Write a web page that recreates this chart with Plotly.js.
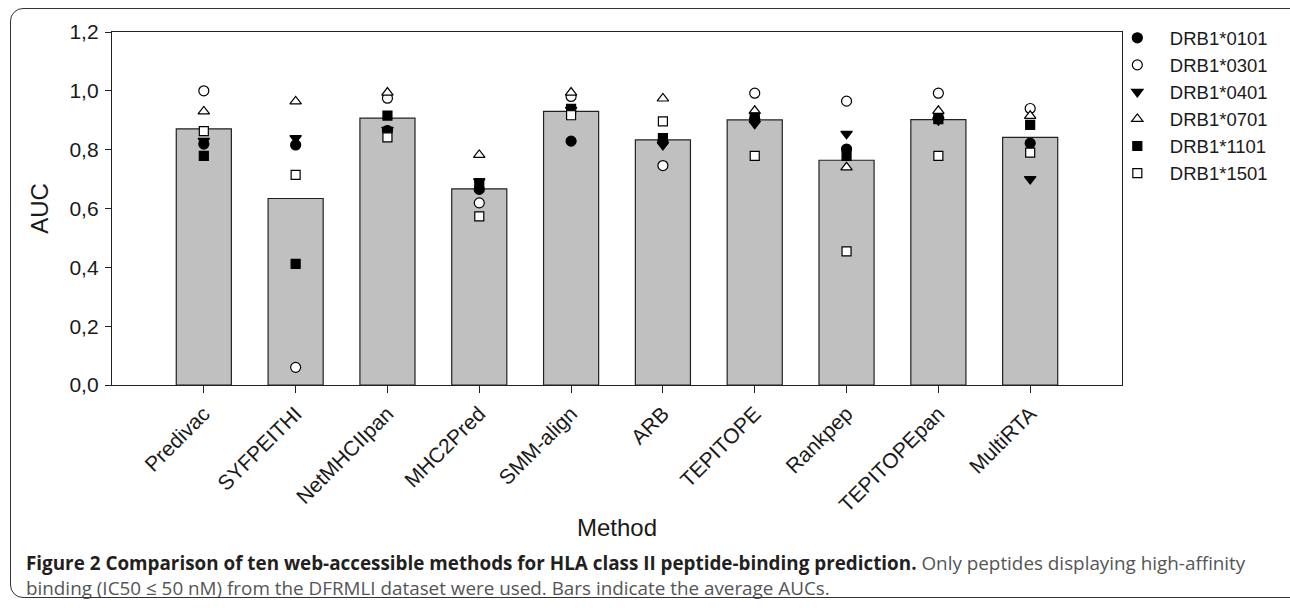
<!DOCTYPE html>
<html>
<head>
<meta charset="utf-8">
<script src="https://cdn.plot.ly/plotly-3.0.1.min.js"></script>
<style>
  html, body { margin: 0; padding: 0; background: #fff; }
  #wrap { position: relative; width: 1290px; height: 608px; overflow: hidden; }
  #frame { position: absolute; left: 10px; top: 8px; width: 1300px; height: 590px;
           border: 1.5px solid #333; border-radius: 13px; box-sizing: border-box; pointer-events: none; }
  #chart { position: absolute; left: 0; top: 0; width: 1290px; height: 608px; }
</style>
</head>
<body>
<div id="wrap">
  <div id="chart"></div>
  <div id="frame"></div>
</div>
<script>
// ---- Data ----
const methods = ["Predivac", "SYFPEITHI", "NetMHCIIpan", "MHC2Pred", "SMM-align",
                 "ARB", "TEPITOPE", "Rankpep", "TEPITOPEpan", "MultiRTA"];
const avgAUC   = [0.871, 0.634, 0.907, 0.667, 0.930, 0.833, 0.901, 0.764, 0.902, 0.842];

const alleles = ["DRB1*0101", "DRB1*0301", "DRB1*0401", "DRB1*0701", "DRB1*1101", "DRB1*1501"];
const DRB1_0101 = [0.819, 0.816, 0.865, 0.665, 0.829, 0.828, 0.904, 0.802, 0.907, 0.822];
const DRB1_0301 = [1.000, 0.060, 0.975, 0.619, 0.981, 0.746, 0.992, 0.965, 0.992, 0.940];
const DRB1_0401 = [0.830, 0.839, 0.867, 0.692, 0.935, 0.816, 0.888, 0.854, 0.900, 0.700];
const DRB1_0701 = [0.930, 0.964, 0.994, 0.782, 0.994, 0.974, 0.932, 0.740, 0.932, 0.915];
const DRB1_1101 = [0.779, 0.412, 0.916, 0.686, 0.939, 0.839, 0.910, 0.779, 0.904, 0.884];
const DRB1_1501 = [0.863, 0.714, 0.842, 0.573, 0.917, 0.896, 0.779, 0.454, 0.779, 0.790];
const alleleValues = [DRB1_0101, DRB1_0301, DRB1_0401, DRB1_0701, DRB1_1101, DRB1_1501];

const yTickVals = [0, 0.2, 0.4, 0.6, 0.8, 1.0, 1.2];

const captionBold = "Figure 2 Comparison of ten web-accessible methods for HLA class II peptide-binding prediction.";
const captionRest1 = " Only peptides displaying high-affinity";
const captionLine2 = "binding (IC50 \u2264 50 nM) from the DFRMLI dataset were used. Bars indicate the average AUCs.";

// ---- Styles ----
const symbols = ["circle", "circle", "triangle-down", "triangle-up", "square", "square"];
const fills   = ["#000", "#fff", "#000", "#fff", "#000", "#fff"];
const sizes   = [10, 10, 10, 10, 9, 9];

// geometry of the plot area in page pixels
const W = 1290, H = 608;
const M = { l: 112, r: 168, t: 32, b: 223 };
const pw = W - M.l - M.r, ph = H - M.t - M.b;
const px2paperX = x => (x - M.l) / pw;
const px2paperY = y => (H - M.b - y) / ph;

const traces = [];
traces.push({
  type: "bar",
  x: methods,
  y: avgAUC,
  width: 0.6,
  marker: { color: "#c0c0c0", line: { color: "#222", width: 1.2 } },
  showlegend: false,
  hoverinfo: "x+y"
});
alleles.forEach((name, i) => {
  traces.push({
    type: "scatter",
    mode: "markers",
    name: name,
    x: methods,
    y: alleleValues[i],
    marker: {
      symbol: symbols[i],
      size: sizes[i],
      color: fills[i],
      line: { color: "#000", width: 1.2 }
    }
  });
});

const font = "Liberation Sans, Arial, Helvetica, sans-serif";
const layout = {
  width: W, height: H,
  margin: M,
  paper_bgcolor: "#fff",
  plot_bgcolor: "#fff",
  separators: ",.",
  font: { family: font, color: "#1a1a1a", size: 18 },
  xaxis: {
    type: "category",
    range: [-1, 10],
    showline: true, mirror: true, linecolor: "#222", linewidth: 1.3,
    ticks: "outside", ticklen: 7, tickwidth: 1.2, tickcolor: "#222",
    tickangle: -45,
    tickfont: { family: font, size: 21, color: "#1a1a1a" },
    showgrid: false, zeroline: false,
    title: { text: "Method", font: { family: font, size: 24, color: "#1a1a1a" }, standoff: 4 }
  },
  yaxis: {
    range: [0, 1.2],
    tickvals: yTickVals,
    tickformat: ".1f",
    showline: true, mirror: true, linecolor: "#222", linewidth: 1.3,
    ticks: "outside", ticklen: 6, tickwidth: 1.2, tickcolor: "#222",
    ticklabelstandoff: 2,
    tickfont: { family: font, size: 21, color: "#1a1a1a" },
    showgrid: false, zeroline: false,
    title: { text: "AUC", font: { family: font, size: 24, color: "#1a1a1a" }, standoff: 14 }
  },
  legend: {
    x: 0.983, xanchor: "left", y: 1.036, yanchor: "top",
    itemwidth: 55,
    bgcolor: "rgba(0,0,0,0)",
    font: { family: font, size: 18.5, color: "#1a1a1a" },
    itemclick: false
  },
  annotations: [
    {
      xref: "paper", yref: "paper",
      x: px2paperX(24), y: px2paperY(575),
      xanchor: "left", yanchor: "middle", showarrow: false, align: "left",
      font: { family: "Open Sans, sans-serif", size: 18.85, color: "#555" },
      text: "<b><span style='color:#231f20'>" + captionBold + "</span></b>" + captionRest1 +
            "<br>" + captionLine2
    }
  ]
};

Plotly.newPlot("chart", traces, layout, { displayModeBar: false, staticPlot: false });
</script>
</body>
</html>
